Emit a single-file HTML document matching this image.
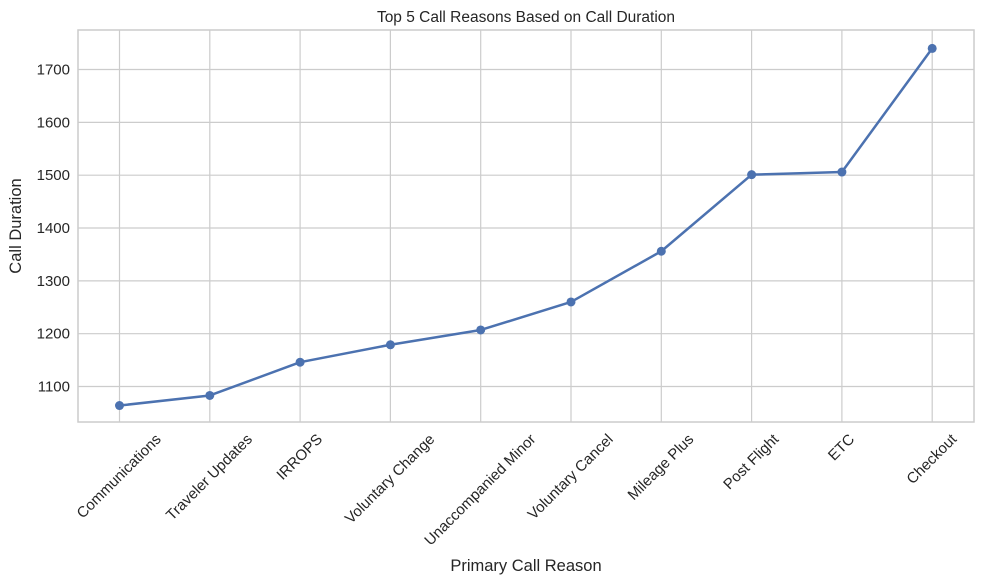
<!DOCTYPE html>
<html><head><meta charset="utf-8"><style>
body{margin:0;background:#fff}
svg{font-family:"Liberation Sans","DejaVu Sans",sans-serif;display:block}
</style></head><body>
<svg id="chart" width="984" height="584" viewBox="0 0 984 584" xmlns="http://www.w3.org/2000/svg">
<rect x="0" y="0" width="984" height="584" fill="#fff"/>
<g id="grid"></g>
<rect x="78" y="30" width="896" height="392" fill="none" stroke="#cccccc" stroke-width="1.5"/>
<g id="marks"></g>
<g id="ticks" font-size="15" fill="#262626"></g>
<text x="526" y="22" text-anchor="middle" font-size="15.5" fill="#262626">Top 5 Call Reasons Based on Call Duration</text>
<text x="526" y="571" text-anchor="middle" font-size="16.5" fill="#262626">Primary Call Reason</text>
<text transform="translate(21,226) rotate(-90)" text-anchor="middle" font-size="16.5" fill="#262626">Call Duration</text>
</svg>
<script>
const categories=["Communications","Traveler Updates","IRROPS","Voluntary Change","Unaccompanied Minor","Voluntary Cancel","Mileage Plus","Post Flight","ETC","Checkout"];
const durations=[1064,1083,1146,1179,1207,1260,1356,1501,1506,1740];
const yTicks=[1100,1200,1300,1400,1500,1600,1700];
const NS="http://www.w3.org/2000/svg";
const L=78,R=974,T=30,B=422;
function xs(i){return 119.5+i*90.3;}
function ys(v){return 386.5-(v-1100)*0.5283;}
const grid=document.getElementById('grid'),marks=document.getElementById('marks'),ticks=document.getElementById('ticks');
function mk(tag,attrs,parent){const e=document.createElementNS(NS,tag);for(const k in attrs)e.setAttribute(k,attrs[k]);parent.appendChild(e);return e;}
yTicks.forEach(v=>{
 const l=mk('line',{x1:L,x2:R,y1:ys(v),y2:ys(v),stroke:'#cccccc','stroke-width':1.2},grid);
 
 
 const t=mk('text',{x:L-8,y:ys(v)+5,'text-anchor':'end'},ticks);
 t.textContent=v;
 
 
});
categories.forEach((c,i)=>{
 const l=mk('line',{x1:xs(i),x2:xs(i),y1:T,y2:B,stroke:'#cccccc','stroke-width':1.2},grid);
 
 
 const t=mk('text',{'text-anchor':'middle','dominant-baseline':'middle'},ticks);
 t.textContent=c;
 
 
 const w=t.getComputedTextLength();
 const cy=432+(w+15)*0.7071/2;
 t.setAttribute('transform','translate('+xs(i)+','+cy+') rotate(-45)');
});
const pts=durations.map((v,i)=>xs(i)+','+ys(v)).join(' ');
const pl=mk('polyline',{points:pts,fill:'none',stroke:'#4c72b0','stroke-width':2.5,'stroke-linejoin':'round'},marks);


durations.forEach((v,i)=>{
 const c=mk('circle',{cx:xs(i),cy:ys(v),r:4.5,fill:'#4c72b0'},marks);
 
 
});
</script>
</body></html>
